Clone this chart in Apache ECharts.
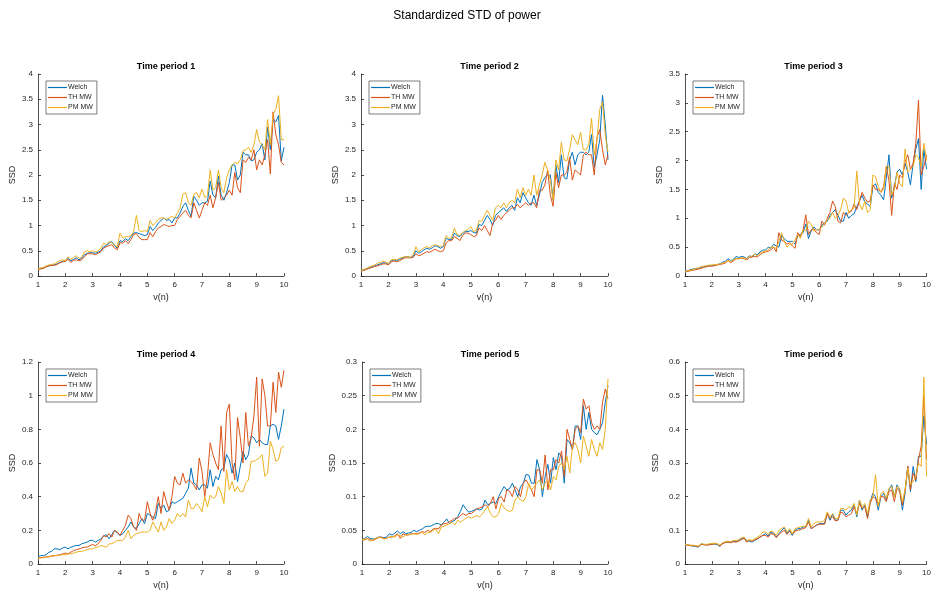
<!DOCTYPE html>
<html>
<head>
<meta charset="utf-8">
<script src="https://cdn.jsdelivr.net/npm/echarts@6/dist/echarts.min.js"></script>
<style>
  html, body { margin: 0; padding: 0; background: #fff; }
  #chart { width: 934px; height: 592px; }
</style>
</head>
<body>
<div id="chart"></div>
<script>
// v(n) grid: 1.0 .. 10.0 step 0.1
const vn = [];
for (let i = 0; i <= 90; i++) vn.push(+(1 + i / 10).toFixed(1));

const seriesNames = ['Welch', 'TH MW', 'PM MW'];
const panelTitles = ['Time period 1', 'Time period 2', 'Time period 3', 'Time period 4', 'Time period 5', 'Time period 6'];
const yMax = [4, 4, 3.5, 1.2, 0.3, 0.6];
const yStep = [0.5, 0.5, 0.5, 0.2, 0.05, 0.1];

// Time period 1
const p1Welch = [0.14,0.15,0.16,0.19,0.2,0.22,0.22,0.24,0.27,0.29,
  0.30,0.35,0.3,0.33,0.36,0.32,0.35,0.42,0.45,0.46,
  0.46,0.45,0.47,0.5,0.58,0.6,0.65,0.68,0.6,0.55,
  0.7,0.68,0.74,0.7,0.78,0.85,0.86,0.84,0.82,0.8,
  0.82,0.98,0.9,0.96,1.05,1.1,1.15,1.1,1.12,1.05,
  1.15,1.15,1.25,1.38,1.45,1.3,1.18,1.58,1.5,1.4,
  1.45,1.45,1.48,1.88,1.6,1.55,1.98,1.6,1.5,1.65,
  1.85,2.2,2.2,1.9,2.0,2.45,2.4,2.4,2.28,2.3,
  2.45,2.5,2.62,2.3,2.95,2.5,3.1,3.05,3.18,2.28,
  2.55];
const p1TH = [0.13,0.14,0.15,0.18,0.2,0.21,0.21,0.23,0.26,0.28,
  0.29,0.33,0.27,0.31,0.32,0.3,0.32,0.38,0.44,0.44,
  0.44,0.42,0.45,0.48,0.55,0.58,0.6,0.62,0.55,0.52,
  0.66,0.65,0.7,0.64,0.72,0.82,0.84,0.76,0.72,0.72,
  0.72,0.86,0.78,0.88,0.95,0.98,1.02,1.0,0.98,1.0,
  1.0,1.12,1.18,1.25,1.3,1.2,1.15,1.45,1.3,1.15,
  1.3,1.45,1.4,1.6,1.35,1.55,1.85,1.5,1.55,1.6,
  1.7,1.6,2.05,1.75,1.65,2.3,2.25,2.35,2.3,2.5,
  2.1,2.3,2.2,2.4,2.7,2.02,3.25,2.8,2.6,2.25,
  2.2];
const p1PM = [0.14,0.16,0.17,0.2,0.22,0.23,0.24,0.27,0.31,0.32,
  0.3,0.38,0.33,0.37,0.4,0.35,0.37,0.48,0.5,0.48,
  0.5,0.48,0.5,0.55,0.65,0.62,0.68,0.66,0.62,0.58,
  0.85,0.75,0.78,0.78,0.8,0.88,1.2,0.9,0.88,0.9,
  0.88,1.1,1.0,1.05,1.12,1.15,1.15,1.12,1.15,1.18,
  1.15,1.25,1.35,1.62,1.65,1.45,1.4,1.62,1.65,1.55,
  1.72,1.55,1.6,2.1,1.7,1.75,2.1,1.75,1.65,1.95,
  2.1,2.2,2.25,2.22,2.3,2.48,2.5,2.55,2.45,2.6,
  2.9,2.65,2.6,2.5,3.1,2.6,3.2,3.3,3.57,2.7,
  2.7];

// Time period 2
const p2Welch = [0.11,0.12,0.14,0.16,0.18,0.2,0.22,0.24,0.26,0.26,
  0.23,0.3,0.32,0.3,0.33,0.35,0.38,0.38,0.37,0.38,
  0.5,0.45,0.48,0.52,0.55,0.53,0.56,0.6,0.58,0.55,
  0.58,0.75,0.72,0.72,0.85,0.8,0.78,0.84,0.88,0.88,
  0.9,0.86,0.85,1.02,1.0,1.1,1.2,1.12,1.0,1.2,
  1.25,1.3,1.35,1.28,1.35,1.4,1.3,1.55,1.45,1.65,
  1.55,1.45,1.4,1.6,1.4,1.6,1.85,1.95,2.0,2.0,
  1.5,2.2,1.85,2.4,1.95,1.92,2.3,2.45,2.2,2.4,
  2.45,2.45,2.4,2.45,2.8,2.15,2.4,2.7,3.58,3.0,
  2.3];
const p2TH = [0.1,0.11,0.13,0.15,0.17,0.19,0.2,0.22,0.24,0.24,
  0.22,0.28,0.3,0.28,0.3,0.33,0.36,0.36,0.36,0.37,
  0.44,0.4,0.42,0.45,0.48,0.47,0.5,0.53,0.5,0.48,
  0.5,0.65,0.7,0.7,0.78,0.75,0.7,0.8,0.85,0.85,
  0.82,0.78,0.8,0.95,0.9,1.0,0.9,0.8,1.05,1.1,
  1.2,1.12,1.2,1.25,1.3,1.35,1.35,1.42,1.35,1.4,
  1.45,1.4,1.45,1.45,1.35,1.7,1.7,1.8,2.1,1.6,
  1.38,2.05,1.75,2.0,2.0,2.05,2.35,1.9,2.1,2.05,
  2.0,2.4,2.45,2.4,2.4,2.0,2.75,2.9,2.5,2.2,
  2.4];
const p2PM = [0.11,0.13,0.15,0.18,0.2,0.22,0.25,0.27,0.29,0.28,
  0.25,0.32,0.33,0.32,0.35,0.37,0.38,0.38,0.37,0.42,
  0.58,0.48,0.52,0.56,0.58,0.56,0.6,0.62,0.6,0.58,
  0.6,0.8,0.75,0.75,0.95,0.82,0.8,0.86,0.9,0.92,
  0.98,0.88,0.9,1.1,1.08,1.2,1.3,1.2,1.1,1.35,
  1.4,1.35,1.45,1.35,1.45,1.5,1.45,1.72,1.55,1.75,
  1.6,1.72,1.6,2.0,1.6,1.8,2.0,2.25,2.1,1.9,
  1.5,2.3,2.1,2.65,2.3,2.28,2.5,2.8,2.7,2.6,
  2.85,2.5,2.5,2.6,3.12,2.4,2.7,3.3,3.45,2.8,
  2.45];

// Time period 3
const p3Welch = [0.08,0.09,0.11,0.12,0.13,0.13,0.15,0.16,0.17,0.18,
  0.18,0.19,0.2,0.21,0.24,0.25,0.3,0.27,0.28,0.34,
  0.32,0.34,0.33,0.3,0.35,0.33,0.38,0.37,0.42,0.45,
  0.45,0.5,0.48,0.55,0.52,0.5,0.7,0.65,0.6,0.6,
  0.6,0.55,0.7,0.72,0.75,0.9,0.65,0.78,0.85,0.8,
  0.8,0.88,0.92,0.95,1.05,1.1,1.15,1.05,0.95,0.95,
  1.1,1.0,1.05,1.08,1.2,1.3,1.4,1.28,1.25,1.2,
  1.55,1.6,1.45,1.4,1.32,1.7,2.1,1.35,1.55,1.8,
  1.85,1.75,1.95,1.8,1.58,1.95,2.2,2.38,1.5,2.2,
  1.85];
const p3TH = [0.07,0.08,0.09,0.1,0.11,0.12,0.13,0.15,0.16,0.17,
  0.17,0.18,0.19,0.2,0.21,0.22,0.27,0.23,0.26,0.3,
  0.3,0.31,0.3,0.28,0.32,0.33,0.34,0.33,0.37,0.4,
  0.42,0.43,0.45,0.5,0.42,0.75,0.62,0.6,0.55,0.58,
  0.52,0.48,0.75,0.68,0.8,1.06,0.72,0.8,0.82,0.75,
  0.72,0.95,0.88,1.0,1.1,1.3,1.2,0.95,0.92,1.1,
  1.05,1.1,1.12,1.25,1.15,1.3,1.45,1.35,1.28,1.3,
  1.58,1.5,1.5,1.45,1.55,1.9,1.65,1.05,1.6,1.5,
  1.75,1.7,1.98,2.1,1.85,1.95,2.3,3.05,1.75,1.9,
  2.1];
const p3PM = [0.08,0.09,0.1,0.11,0.13,0.14,0.16,0.17,0.18,0.19,
  0.19,0.2,0.2,0.21,0.22,0.24,0.26,0.25,0.28,0.3,
  0.3,0.32,0.31,0.3,0.33,0.35,0.38,0.35,0.4,0.42,
  0.43,0.45,0.5,0.5,0.48,0.6,0.75,0.6,0.5,0.55,
  0.55,0.62,0.72,0.65,0.8,0.78,0.95,0.9,0.78,0.8,
  0.8,0.85,0.9,0.98,1.0,1.1,1.0,1.05,1.15,1.35,
  1.3,1.1,1.15,1.18,1.82,1.25,1.15,1.3,1.1,1.15,
  1.75,1.72,1.55,1.45,1.5,1.9,1.9,1.4,1.5,1.8,
  1.6,1.55,2.2,1.8,1.85,1.9,2.1,2.05,1.9,2.3,
  2.0];

// Time period 4
const p4Welch = [0.045,0.05,0.05,0.055,0.07,0.075,0.09,0.09,0.085,0.095,
  0.1,0.09,0.1,0.105,0.11,0.11,0.12,0.125,0.13,0.14,
  0.14,0.13,0.14,0.15,0.165,0.175,0.15,0.175,0.2,0.185,
  0.17,0.18,0.2,0.22,0.25,0.22,0.21,0.24,0.27,0.24,
  0.3,0.29,0.28,0.27,0.36,0.33,0.35,0.31,0.32,0.37,
  0.36,0.37,0.38,0.39,0.42,0.45,0.57,0.48,0.47,0.44,
  0.47,0.47,0.45,0.56,0.46,0.52,0.5,0.56,0.57,0.65,
  0.62,0.54,0.6,0.49,0.58,0.67,0.62,0.65,0.76,0.75,
  0.72,0.74,0.72,0.71,0.71,0.82,0.83,0.82,0.74,0.82,
  0.92];
const p4TH = [0.035,0.038,0.04,0.042,0.045,0.048,0.05,0.052,0.055,0.06,
  0.065,0.06,0.07,0.08,0.085,0.09,0.095,0.1,0.1,0.11,
  0.115,0.11,0.12,0.14,0.17,0.16,0.18,0.16,0.2,0.19,
  0.17,0.2,0.23,0.29,0.27,0.22,0.2,0.3,0.26,0.26,
  0.37,0.3,0.26,0.31,0.4,0.3,0.43,0.37,0.32,0.4,
  0.52,0.48,0.47,0.54,0.48,0.5,0.49,0.47,0.44,0.63,
  0.55,0.4,0.52,0.72,0.65,0.6,0.56,0.82,0.55,0.9,
  0.95,0.6,0.5,0.87,0.75,0.6,0.9,0.7,0.75,0.88,
  1.11,0.7,1.1,1.0,0.82,0.82,1.08,0.9,1.14,1.05,
  1.15];
const p4PM = [0.033,0.035,0.037,0.04,0.042,0.045,0.048,0.05,0.052,0.055,
  0.055,0.06,0.06,0.065,0.07,0.075,0.075,0.08,0.085,0.09,
  0.09,0.1,0.1,0.11,0.105,0.1,0.12,0.12,0.13,0.14,
  0.14,0.14,0.16,0.2,0.15,0.17,0.18,0.185,0.19,0.19,
  0.19,0.2,0.25,0.22,0.19,0.25,0.2,0.22,0.27,0.24,
  0.26,0.3,0.28,0.3,0.28,0.38,0.33,0.33,0.36,0.34,
  0.31,0.4,0.34,0.41,0.39,0.4,0.46,0.42,0.36,0.56,
  0.44,0.49,0.43,0.46,0.43,0.43,0.48,0.5,0.61,0.61,
  0.62,0.63,0.65,0.52,0.54,0.73,0.68,0.61,0.62,0.69,
  0.7];

// Time period 5
const p5Welch = [0.036,0.038,0.041,0.038,0.037,0.038,0.04,0.04,0.039,0.04,
  0.045,0.043,0.046,0.049,0.045,0.048,0.045,0.046,0.047,0.05,
  0.048,0.05,0.052,0.055,0.056,0.056,0.058,0.06,0.06,0.058,
  0.062,0.067,0.06,0.063,0.065,0.07,0.078,0.088,0.082,0.077,
  0.078,0.08,0.082,0.08,0.082,0.095,0.088,0.09,0.092,0.09,
  0.1,0.108,0.115,0.11,0.112,0.12,0.11,0.1,0.115,0.12,
  0.133,0.132,0.12,0.12,0.155,0.14,0.1,0.13,0.148,0.12,
  0.158,0.14,0.165,0.16,0.12,0.185,0.18,0.17,0.205,0.205,
  0.185,0.235,0.2,0.225,0.2,0.195,0.192,0.2,0.21,0.24,
  0.265];
const p5TH = [0.035,0.036,0.038,0.036,0.035,0.037,0.039,0.04,0.038,0.038,
  0.04,0.04,0.042,0.045,0.038,0.045,0.043,0.043,0.045,0.045,
  0.045,0.046,0.048,0.047,0.05,0.048,0.052,0.053,0.052,0.058,
  0.06,0.06,0.063,0.065,0.068,0.068,0.072,0.075,0.072,0.075,
  0.075,0.078,0.082,0.083,0.085,0.088,0.085,0.09,0.1,0.082,
  0.098,0.1,0.092,0.11,0.108,0.1,0.115,0.11,0.1,0.12,
  0.125,0.118,0.11,0.1,0.14,0.14,0.12,0.162,0.11,0.14,
  0.14,0.155,0.15,0.168,0.13,0.2,0.185,0.17,0.2,0.205,
  0.195,0.245,0.23,0.235,0.21,0.2,0.205,0.2,0.24,0.26,
  0.245];
const p5PM = [0.036,0.037,0.037,0.034,0.036,0.038,0.04,0.039,0.037,0.038,
  0.04,0.041,0.04,0.043,0.042,0.04,0.043,0.044,0.044,0.045,
  0.044,0.045,0.047,0.043,0.047,0.047,0.05,0.052,0.045,0.055,
  0.056,0.058,0.06,0.062,0.058,0.065,0.062,0.065,0.068,0.07,
  0.068,0.07,0.072,0.07,0.074,0.08,0.085,0.075,0.07,0.07,
  0.075,0.09,0.083,0.08,0.078,0.08,0.095,0.1,0.095,0.093,
  0.1,0.12,0.11,0.115,0.12,0.125,0.11,0.12,0.125,0.11,
  0.13,0.125,0.145,0.15,0.14,0.16,0.135,0.175,0.18,0.17,
  0.15,0.19,0.175,0.16,0.185,0.17,0.16,0.18,0.17,0.2,
  0.275];

// Time period 6
const p6Welch = [0.058,0.057,0.055,0.053,0.052,0.05,0.06,0.058,0.057,0.058,
  0.06,0.059,0.058,0.052,0.062,0.065,0.066,0.065,0.068,0.066,
  0.07,0.075,0.078,0.068,0.068,0.065,0.07,0.075,0.08,0.085,
  0.09,0.083,0.095,0.09,0.08,0.09,0.1,0.108,0.09,0.1,
  0.085,0.1,0.105,0.105,0.11,0.11,0.13,0.105,0.11,0.115,
  0.12,0.12,0.12,0.15,0.13,0.148,0.13,0.13,0.16,0.16,
  0.145,0.155,0.16,0.175,0.14,0.19,0.16,0.175,0.14,0.185,
  0.21,0.2,0.16,0.2,0.21,0.19,0.22,0.235,0.2,0.235,
  0.22,0.16,0.21,0.29,0.215,0.29,0.245,0.32,0.32,0.44,
  0.355];
const p6TH = [0.057,0.056,0.054,0.055,0.053,0.052,0.058,0.057,0.056,0.057,
  0.058,0.06,0.06,0.054,0.06,0.064,0.065,0.063,0.066,0.065,
  0.068,0.072,0.076,0.065,0.07,0.068,0.072,0.075,0.08,0.085,
  0.085,0.08,0.09,0.088,0.078,0.088,0.095,0.1,0.088,0.098,
  0.088,0.098,0.1,0.102,0.105,0.108,0.125,0.105,0.11,0.115,
  0.118,0.118,0.118,0.15,0.135,0.14,0.128,0.13,0.155,0.15,
  0.14,0.145,0.15,0.17,0.15,0.18,0.165,0.17,0.135,0.18,
  0.2,0.195,0.175,0.2,0.2,0.185,0.215,0.22,0.185,0.225,
  0.215,0.175,0.22,0.29,0.22,0.27,0.25,0.31,0.35,0.5,
  0.31];
const p6PM = [0.058,0.057,0.056,0.056,0.054,0.054,0.06,0.059,0.058,0.06,
  0.061,0.062,0.06,0.056,0.063,0.066,0.068,0.066,0.07,0.07,
  0.072,0.078,0.08,0.07,0.072,0.07,0.075,0.08,0.085,0.095,
  0.095,0.088,0.098,0.095,0.085,0.1,0.105,0.11,0.095,0.105,
  0.09,0.105,0.108,0.11,0.112,0.112,0.135,0.11,0.12,0.125,
  0.125,0.125,0.13,0.155,0.14,0.15,0.135,0.135,0.165,0.165,
  0.16,0.17,0.165,0.18,0.145,0.19,0.17,0.18,0.15,0.19,
  0.2,0.265,0.17,0.21,0.215,0.195,0.225,0.23,0.2,0.23,
  0.225,0.185,0.22,0.285,0.235,0.245,0.26,0.3,0.29,0.555,
  0.26];

const panelData = [
  [p1Welch, p1TH, p1PM],
  [p2Welch, p2TH, p2PM],
  [p3Welch, p3TH, p3PM],
  [p4Welch, p4TH, p4PM],
  [p5Welch, p5TH, p5PM],
  [p6Welch, p6TH, p6PM]
];

const colors = ['#0072BD', '#D95319', '#EDB120'];
const font = 'Liberation Sans, Arial, Helvetica, sans-serif';
const axisColor = '#262626';

// panel boxes in px: [left, top, width, height]
const boxes = [
  [38, 74, 246, 202], [361, 74, 247, 202], [685, 74, 247, 202],
  [38, 362, 246, 202], [362, 362, 246, 202], [685, 362, 247, 202]
];

const grid = [], xAxis = [], yAxis = [], series = [], legend = [], title = [];

title.push({
  text: 'Standardized STD of power', left: 'center', top: 5,
  textStyle: { fontFamily: font, fontSize: 12, fontWeight: 'normal', color: '#000' }
});

boxes.forEach((b, i) => {
  grid.push({ left: b[0], top: b[1], width: b[2], height: b[3] });
  title.push({
    text: panelTitles[i], left: b[0] + b[2] / 2, top: b[1] - 17, textAlign: 'center',
    textStyle: { fontFamily: font, fontSize: 9, fontWeight: 'bold', color: '#000' }
  });
  xAxis.push({
    type: 'value', gridIndex: i, min: 1, max: 10, interval: 1,
    name: 'v(n)', nameLocation: 'middle', nameGap: 17,
    nameTextStyle: { fontFamily: font, fontSize: 9, color: axisColor },
    axisLine: { lineStyle: { color: axisColor, width: 0.8 } },
    axisTick: { inside: true, length: 3, lineStyle: { color: axisColor, width: 0.8 } },
    axisLabel: { fontFamily: font, fontSize: 8, color: axisColor, margin: 5 },
    splitLine: { show: false }
  });
  yAxis.push({
    type: 'value', gridIndex: i, min: 0, max: yMax[i], interval: yStep[i],
    name: 'SSD', nameLocation: 'middle', nameGap: i === 4 || i === 5 ? 25 : 21,
    nameTextStyle: { fontFamily: font, fontSize: 9, color: axisColor },
    axisLine: { show: true, lineStyle: { color: axisColor, width: 0.8 } },
    axisTick: { show: true, inside: true, length: 3, lineStyle: { color: axisColor, width: 0.8 } },
    axisLabel: { fontFamily: font, fontSize: 8, color: axisColor, margin: 5 },
    splitLine: { show: false }
  });
  panelData[i].forEach((vals, k) => {
    series.push({
      name: seriesNames[k], type: 'line', xAxisIndex: i, yAxisIndex: i,
      data: vals.map((v, j) => [vn[j], v]),
      showSymbol: false, symbol: 'none',
      lineStyle: { color: colors[k], width: 1 },
      itemStyle: { color: colors[k] },
      emphasis: { disabled: true }, z: 2 + k
    });
  });
  legend.push({
    data: seriesNames, orient: 'vertical', left: b[0] + 8, top: b[1] + 7,
    icon: 'rect', itemWidth: 19, itemHeight: 1.2, itemGap: 3,
    padding: [3, 4, 3, 2], borderColor: axisColor, borderWidth: 0.6,
    backgroundColor: '#fff',
    textStyle: { fontFamily: font, fontSize: 7, color: axisColor, padding: [0, 0, 0, -4] }
  });
});

const chart = echarts.init(document.getElementById('chart'), null, { renderer: 'canvas' });
chart.setOption({
  animation: false,
  color: colors,
  backgroundColor: '#fff',
  title, grid, xAxis, yAxis, legend, series
});
</script>
</body>
</html>
